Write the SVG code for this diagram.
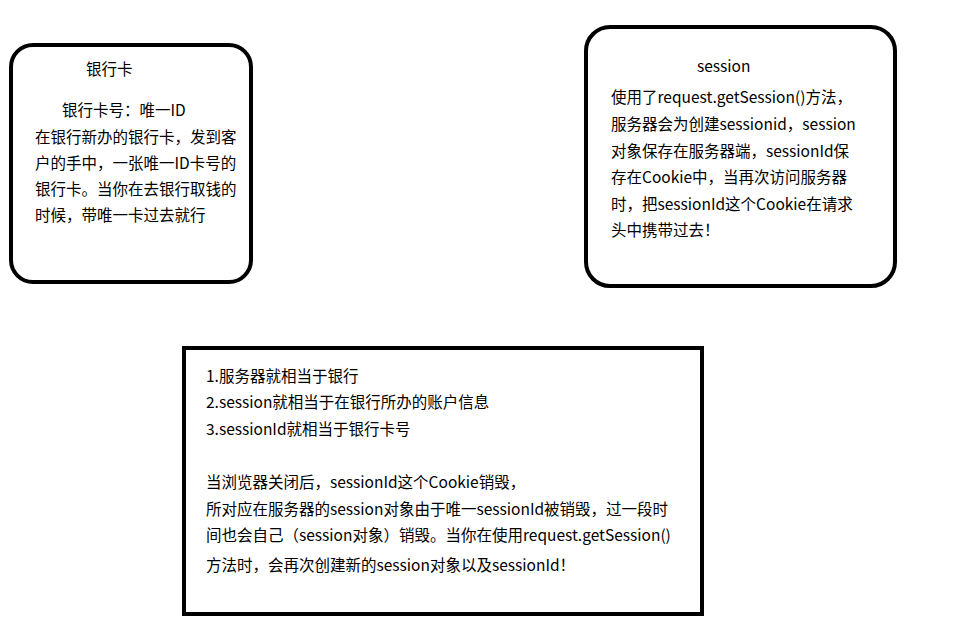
<svg xmlns="http://www.w3.org/2000/svg" width="953" height="632" viewBox="0 0 953 632">
<style>
.b{fill:#fff;stroke:#000;stroke-width:4}
text{font-family:"Noto Sans CJK SC","Noto Sans",sans-serif;font-size:15.5px;fill:#000}
</style>
<rect width="953" height="632" fill="#fff"/>
<g id="card">
<rect class="b" x="11" y="45" width="240" height="237" rx="22"/>
<text x="86" y="75">银行卡</text>
<text x="62" y="116">银行卡号：唯一ID</text>
<text x="35" y="143">在银行新办的银行卡，发到客</text>
<text x="35" y="169">户的手中，一张唯一ID卡号的</text>
<text x="35" y="195">银行卡。当你在去银行取钱的</text>
<text x="35" y="221">时候，带唯一卡过去就行</text>
</g>
<g id="session">
<rect class="b" x="586" y="27" width="309" height="259" rx="24"/>
<text x="697" y="72">session</text>
<text x="611" y="103">使用了request.getSession()方法，</text>
<text x="611" y="130">服务器会为创建sessionid，session</text>
<text x="611" y="157">对象保存在服务器端，sessionId保</text>
<text x="611" y="183">存在Cookie中，当再次访问服务器</text>
<text x="611" y="210">时，把sessionId这个Cookie在请求</text>
<text x="611" y="236">头中携带过去！</text>
</g>
<g id="summary">
<rect class="b" x="184" y="348" width="518" height="266"/>
<text x="206" y="382">1.服务器就相当于银行</text>
<text x="206" y="408">2.session就相当于在银行所办的账户信息</text>
<text x="206" y="435">3.sessionId就相当于银行卡号</text>
<text x="206" y="488">当浏览器关闭后，sessionId这个Cookie销毁，</text>
<text x="206" y="515">所对应在服务器的session对象由于唯一sessionId被销毁，过一段时</text>
<text x="206" y="541">间也会自己（session对象）销毁。当你在使用request.getSession()</text>
<text x="206" y="571">方法时，会再次创建新的session对象以及sessionId！</text>
</g>
<g id="connectors"></g>
</svg>
